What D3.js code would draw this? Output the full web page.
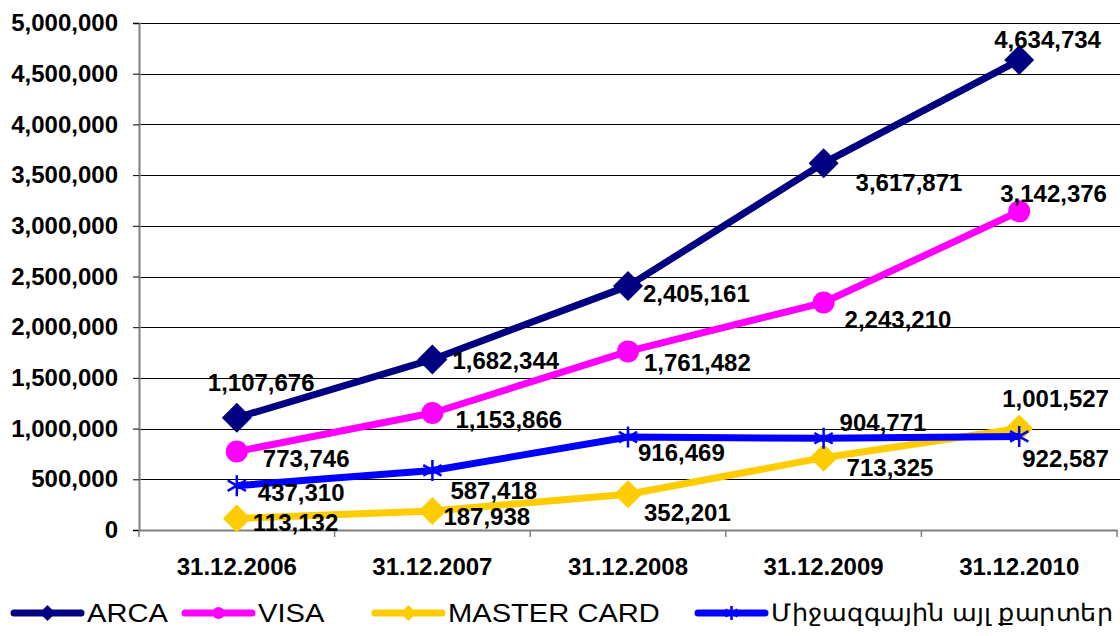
<!DOCTYPE html>
<html>
<head>
<meta charset="utf-8">
<script src="https://cdn.jsdelivr.net/npm/d3@7.9.0/dist/d3.min.js"></script>
<style>
  html, body { margin: 0; padding: 0; background: #fff; }
  svg { display: block; }
  text { font-family: "Liberation Sans", Arial, sans-serif; }
</style>
</head>
<body>
<svg id="chart" width="1120" height="636"></svg>
<script>
// categories and values
const dates = ["31.12.2006", "31.12.2007", "31.12.2008", "31.12.2009", "31.12.2010"];
const arca = [1107676, 1682344, 2405161, 3617871, 4634734];
const visa = [773746, 1153866, 1761482, 2243210, 3142376];
const master = [113132, 187938, 352201, 713325, 1001527];
const other = [437310, 587418, 916469, 904771, 922587];
const yTicks = [0, 500000, 1000000, 1500000, 2000000, 2500000, 3000000, 3500000, 4000000, 4500000, 5000000];

// label offsets [dx, dy] from each point (manually placed like in the original)
const arcaLbl = [[-29, -35], [20, 1], [15, 7], [32, 19], [-25, -21]];
const visaLbl = [[26, 7], [23, 7], [16, 11], [21, 17], [-19, -18]];
const masterLbl = [[16, 4], [11, 6], [16, 18], [23, 10], [-17, -30]];
const otherLbl = [[21, 7], [18, 20], [10, 15], [16, -16], [3, 22]];

const series = [
  { name: "ARCA", values: arca, color: "#000080", marker: "diamond", size: 30, lbl: arcaLbl },
  { name: "VISA", values: visa, color: "#FF00FF", marker: "circle", size: 22, lbl: visaLbl },
  { name: "MASTER CARD", values: master, color: "#FFCC00", marker: "diamond", size: 28, lbl: masterLbl },
  { name: "Միջազգային այլ քարտեր", values: other, color: "#0000FF", marker: "star", size: 21, lbl: otherLbl }
];

const svg = d3.select("#chart");
const plotL = 139, plotR = 1117, plotT = 23, plotB = 530;

const x = d3.scaleBand().domain(dates).range([plotL, plotR]);
const y = d3.scaleLinear().domain([0, 5000000]).range([plotB, plotT]);
const fmt = d3.format(",");

// gridlines
svg.append("g")
  .selectAll("line")
  .data(yTicks.filter(d => d > 0))
  .join("line")
  .attr("x1", plotL).attr("x2", 1120)
  .attr("y1", d => Math.round(y(d)) + 0.5).attr("y2", d => Math.round(y(d)) + 0.5)
  .attr("stroke", "#000").attr("stroke-width", 1);

// y axis
const yAxis = svg.append("g")
  .attr("transform", `translate(${plotL},0)`)
  .call(d3.axisLeft(y).tickValues(yTicks).tickFormat(fmt).tickSize(6).tickPadding(15));
yAxis.select(".domain").attr("stroke", "#808080").attr("stroke-width", 2);
yAxis.selectAll(".tick line").attr("stroke", "#000");
yAxis.selectAll(".tick text")
  .attr("font-family", "Liberation Sans, Arial, sans-serif")
  .attr("font-size", 24).attr("font-weight", "bold").attr("fill", "#000");

// x axis
const xAxis = svg.append("g")
  .attr("transform", `translate(0,${plotB})`)
  .call(d3.axisBottom(x).tickSize(0).tickPadding(28));
xAxis.select(".domain").attr("stroke", "#808080").attr("stroke-width", 2);
xAxis.selectAll(".tick text")
  .attr("font-family", "Liberation Sans, Arial, sans-serif")
  .attr("font-size", 24).attr("font-weight", "bold").attr("fill", "#000");
// category boundary ticks
svg.append("g")
  .selectAll("line")
  .data(d3.range(dates.length + 1))
  .join("line")
  .attr("x1", i => plotL + i * x.step()).attr("x2", i => plotL + i * x.step())
  .attr("y1", plotB).attr("y2", plotB + 7)
  .attr("stroke", "#808080").attr("stroke-width", 1.5);

const cx = d => x(d) + x.bandwidth() / 2;

function drawMarker(g, type, size, color) {
  if (type === "diamond") {
    g.append("path")
      .attr("d", `M0,${-size / 2}L${size / 2},0L0,${size / 2}L${-size / 2},0Z`)
      .attr("fill", color);
  } else if (type === "circle") {
    g.append("circle").attr("r", size / 2).attr("fill", color);
  } else {
    const r = size / 2;
    g.append("path")
      .attr("d", `M0,${-r}V${r}M${-r * 0.87},${-r * 0.5}L${r * 0.87},${r * 0.5}M${-r * 0.87},${r * 0.5}L${r * 0.87},${-r * 0.5}`)
      .attr("stroke", color).attr("stroke-width", 2.5).attr("fill", "none");
  }
}

const line = d3.line().x(d => cx(d[0])).y(d => y(d[1]));

series.forEach(s => {
  const pts = dates.map((d, i) => [d, s.values[i]]);
  svg.append("path")
    .attr("d", line(pts))
    .attr("fill", "none")
    .attr("stroke", s.color)
    .attr("stroke-width", 7)
    .attr("stroke-linejoin", "round");
  pts.forEach(p => {
    const g = svg.append("g").attr("transform", `translate(${cx(p[0])},${y(p[1])})`);
    drawMarker(g, s.marker, s.size, s.color);
  });
});

// data labels
series.forEach(s => {
  dates.forEach((d, i) => {
    svg.append("text")
      .attr("x", cx(d) + s.lbl[i][0])
      .attr("y", y(s.values[i]) + s.lbl[i][1])
      .attr("dominant-baseline", "central")
      .attr("font-size", 24).attr("font-weight", "bold")
      .attr("fill", "#000")
      .text(fmt(s.values[i]));
  });
});

// legend
const legendX = [14, 185, 375, 698];
series.forEach((s, i) => {
  const g = svg.append("g").attr("transform", `translate(${legendX[i]},613)`);
  g.append("line")
    .attr("x1", 0).attr("x2", 67).attr("y1", 0).attr("y2", 0)
    .attr("stroke", s.color).attr("stroke-width", 7).attr("stroke-linecap", "round");
  const m = g.append("g").attr("transform", "translate(33.5,0)");
  drawMarker(m, s.marker, s.marker === "circle" ? 12 : (s.marker === "star" ? 14 : 16), s.color);
  g.append("text")
    .attr("transform", `translate(73,0) scale(${i === 3 ? 1.06 : 1.12},1)`)
    .attr("dominant-baseline", "central")
    .attr("font-size", i === 3 ? 24 : 26)
    .attr("font-family", i === 3 ? "DejaVu Sans, Noto Sans, sans-serif" : null)
    .attr("fill", "#000")
    .text(s.name);
});
</script>
</body>
</html>
